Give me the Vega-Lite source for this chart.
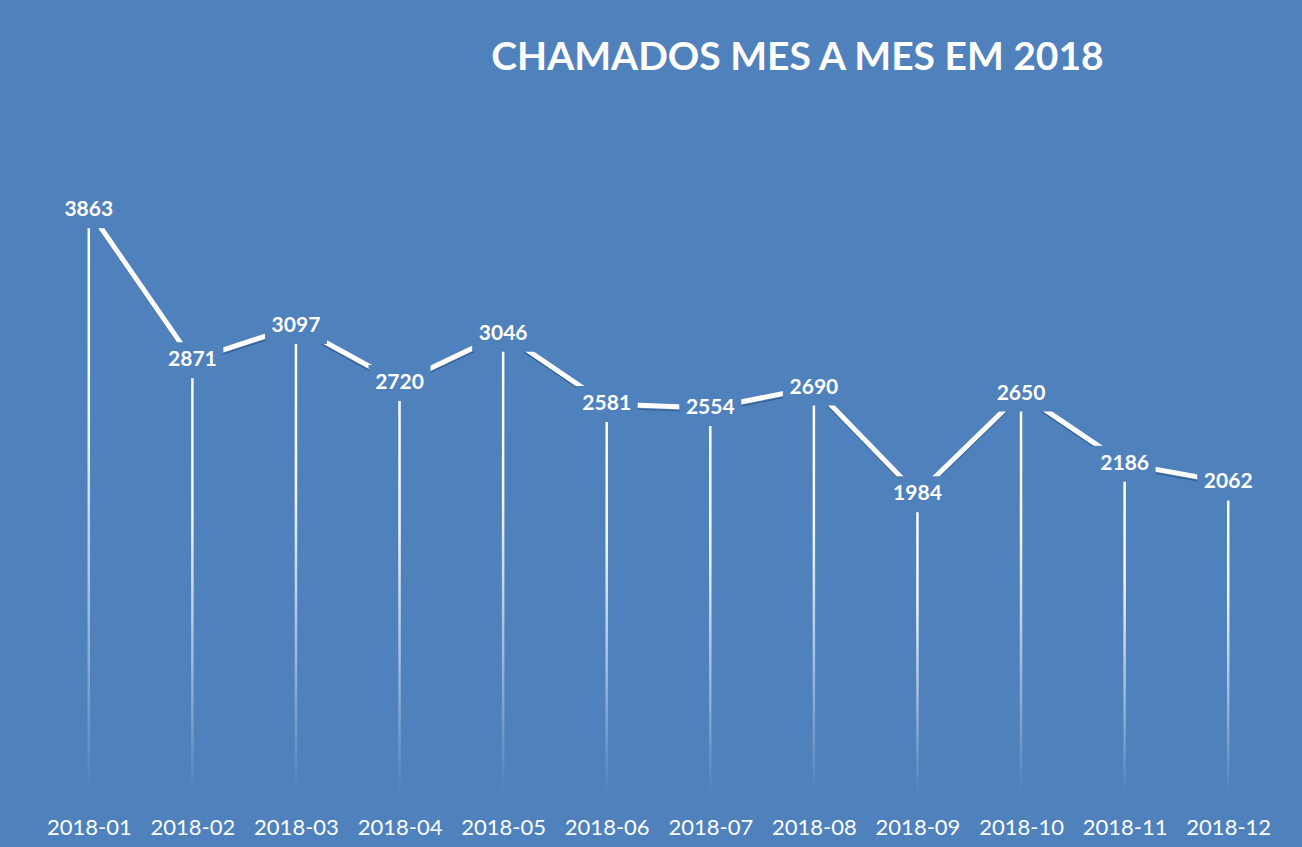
{
  "$schema": "https://vega.github.io/schema/vega-lite/v6.json",
  "width": 1243,
  "height": 680,
  "autosize": {"type": "none"},
  "padding": {"left": 37, "top": 114, "right": 22, "bottom": 53},
  "background": "#4F81BD",
  "config": {
    "view": {"stroke": null},
    "font": "Lato"
  },
  "title": {
    "text": "CHAMADOS MES A MES EM 2018",
    "font": "Lato",
    "fontSize": 39,
    "fontWeight": "bold",
    "color": "#ffffff",
    "anchor": "middle",
    "frame": "group",
    "baseline": "alphabetic",
    "offset": 5,
    "dx": 139
  },
  "data": {
    "values": [
      {"mes": "2018-01", "chamados": 3863},
      {"mes": "2018-02", "chamados": 2871},
      {"mes": "2018-03", "chamados": 3097},
      {"mes": "2018-04", "chamados": 2720},
      {"mes": "2018-05", "chamados": 3046},
      {"mes": "2018-06", "chamados": 2581},
      {"mes": "2018-07", "chamados": 2554},
      {"mes": "2018-08", "chamados": 2690},
      {"mes": "2018-09", "chamados": 1984},
      {"mes": "2018-10", "chamados": 2650},
      {"mes": "2018-11", "chamados": 2186},
      {"mes": "2018-12", "chamados": 2062}
    ]
  },
  "encoding": {
    "x": {
      "field": "mes",
      "type": "ordinal",
      "scale": {"type": "point", "padding": 0.5},
      "axis": {
        "title": null,
        "labelAngle": 0,
        "domain": false,
        "ticks": false,
        "tickSize": 0,
        "grid": false,
        "labelColor": "#ffffff",
        "labelFont": "Lato",
        "labelFontSize": 22,
        "labelBaseline": "alphabetic",
        "labelPadding": 40
      }
    },
    "y": {
      "field": "chamados",
      "type": "quantitative",
      "scale": {"domain": [0, 4500], "nice": false},
      "axis": null
    }
  },
  "layer": [
    {
      "mark": {
        "type": "bar",
        "width": 2.5,
        "fill": {
          "gradient": "linear",
          "x1": 0, "y1": 0, "x2": 0, "y2": 1,
          "stops": [
            {"offset": 0, "color": "#ffffff"},
            {"offset": 0.35, "color": "#f4f7fb"},
            {"offset": 1, "color": "#4F81BD"}
          ]
        }
      }
    },
    {
      "mark": {
        "type": "line",
        "stroke": "#2d4f7a",
        "strokeWidth": 1.2,
        "opacity": 0.7,
        "yOffset": 4
      }
    },
    {
      "mark": {
        "type": "line",
        "stroke": "#ffffff",
        "strokeWidth": 5
      }
    },
    {
      "mark": {
        "type": "point",
        "shape": "M-1,-0.58H1V0.58H-1Z",
        "size": 3844,
        "filled": true,
        "fill": "#4F81BD",
        "opacity": 1,
        "strokeWidth": 0
      }
    },
    {
      "mark": {
        "type": "text",
        "font": "Lato",
        "fontSize": 21,
        "fontWeight": "bold",
        "color": "#ffffff",
        "align": "center",
        "baseline": "middle"
      },
      "encoding": {
        "text": {"field": "chamados", "type": "quantitative", "format": "d"}
      }
    }
  ]
}
